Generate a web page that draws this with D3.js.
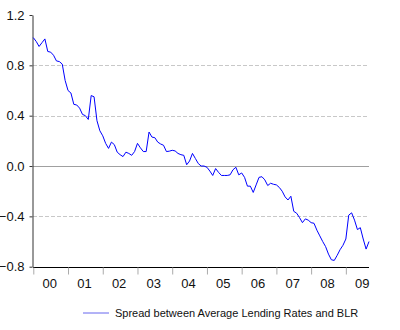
<!DOCTYPE html>
<html>
<head>
<meta charset="utf-8">
<script src="https://cdn.jsdelivr.net/npm/d3@7"></script>
<style>
  body { margin: 0; background: #fff; }
  svg { display: block; font-family: "Liberation Sans", Arial, sans-serif; }
</style>
</head>
<body>
<svg id="chart" width="400" height="330"></svg>
<script>
// ---- data (monthly, Jan 2000 onward) ----
const startYear = 2000;
const seriesName = "Spread between Average Lending Rates and BLR";
const values = [
  1.02, 0.99, 0.95, 0.98, 1.01, 0.91, 0.905, 0.88, 0.835, 0.83, 0.81, 0.68,
  0.60, 0.58, 0.49, 0.485, 0.46, 0.41, 0.40, 0.37, 0.56, 0.55, 0.36, 0.28,
  0.24, 0.18, 0.14, 0.19, 0.17, 0.11, 0.09, 0.075, 0.11, 0.10, 0.085, 0.115,
  0.18, 0.145, 0.115, 0.115, 0.27, 0.23, 0.225, 0.19, 0.175, 0.165, 0.115, 0.118,
  0.125, 0.12, 0.10, 0.09, 0.085, 0.01, 0.04, 0.10, 0.06, 0.02, 0.0, 0.0,
  -0.01, -0.04, -0.075, -0.02, -0.05, -0.075, -0.075, -0.075, -0.07, -0.03, -0.01, -0.07,
  -0.055, -0.09, -0.16, -0.16, -0.21, -0.15, -0.09, -0.085, -0.11, -0.155, -0.137, -0.145,
  -0.15, -0.17, -0.20, -0.245, -0.27, -0.24, -0.36, -0.375, -0.41, -0.45, -0.42, -0.43,
  -0.45, -0.455, -0.51, -0.555, -0.60, -0.64, -0.70, -0.745, -0.75, -0.71, -0.665, -0.63,
  -0.58, -0.39, -0.372, -0.43, -0.505, -0.49, -0.58, -0.66, -0.60
];
const yTicks = [-0.8, -0.4, 0.0, 0.4, 0.8, 1.2];
const yGridDashed = [-0.4, 0.4, 0.8];
const xTickYears = [2000, 2001, 2002, 2003, 2004, 2005, 2006, 2007, 2008, 2009];
const xTickLabels = ["00", "01", "02", "03", "04", "05", "06", "07", "08", "09"];

// ---- layout ----
const plotLeft = 33, plotRight = 369, plotTop = 15, plotBottom = 266.7;
const svg = d3.select("#chart");

const data = values.map((v, i) => ({ t: startYear + i / 12, v }));
const x = d3.scaleLinear()
  .domain([startYear, startYear + (values.length - 1) / 12])
  .range([plotLeft + 0.3, plotRight]);
const y = d3.scaleLinear().domain([-0.8, 1.2]).range([plotBottom, plotTop]);

// gridlines
svg.append("g").selectAll("line").data(yGridDashed).join("line")
  .attr("x1", plotLeft).attr("x2", plotRight)
  .attr("y1", d => Math.round(y(d)) + 0.5).attr("y2", d => Math.round(y(d)) + 0.5)
  .attr("stroke", "#c8c8c8").attr("stroke-width", 1)
  .attr("stroke-dasharray", "4,2");

// zero line
svg.append("line")
  .attr("x1", plotLeft).attr("x2", plotRight)
  .attr("y1", Math.round(y(0)) + 0.5).attr("y2", Math.round(y(0)) + 0.5)
  .attr("stroke", "#a0a0a0").attr("stroke-width", 1);

// y axis
const yAxis = d3.axisLeft(y).tickValues(yTicks).tickFormat(d3.format(".1f"))
  .tickSize(3).tickSizeOuter(0).tickPadding(5);
const gy = svg.append("g").attr("transform", `translate(${plotLeft - 0.5},0)`).call(yAxis);
gy.select(".domain").attr("stroke", "#333");
gy.selectAll(".tick line").attr("stroke", "#333");
gy.selectAll(".tick text").attr("font-size", 13).attr("fill", "#111")
  .attr("font-family", "Liberation Sans, Arial, sans-serif");

// x axis
const half = (x(startYear + 1) - x(startYear)) / 2;
const xAxis = d3.axisBottom(x).tickValues(xTickYears)
  .tickFormat((d, i) => xTickLabels[i]).tickSize(7).tickSizeOuter(0).tickPadding(4);
const gx = svg.append("g").attr("transform", `translate(0,${Math.round(plotBottom) + 0.5})`).call(xAxis);
gx.select(".domain").attr("stroke", "#000").attr("d", `M${plotLeft},0H${plotRight}`);
gx.selectAll(".tick line").attr("stroke", "#aaa");
gx.selectAll(".tick text").attr("font-size", 13).attr("fill", "#111")
  .attr("font-family", "Liberation Sans, Arial, sans-serif")
  .attr("x", half - 1.5);

// series line
const line = d3.line().x(d => x(d.t)).y(d => y(d.v));
svg.append("path").datum(data)
  .attr("d", line)
  .attr("fill", "none")
  .attr("stroke", "#0000ff")
  .attr("stroke-width", 1);

// legend
svg.append("line")
  .attr("x1", 83).attr("x2", 109).attr("y1", 313).attr("y2", 313)
  .attr("stroke", "#6666ee").attr("stroke-width", 1);
svg.append("text")
  .attr("x", 115).attr("y", 317)
  .attr("font-size", 11).attr("fill", "#111")
  .text(seriesName);
</script>
</body>
</html>
